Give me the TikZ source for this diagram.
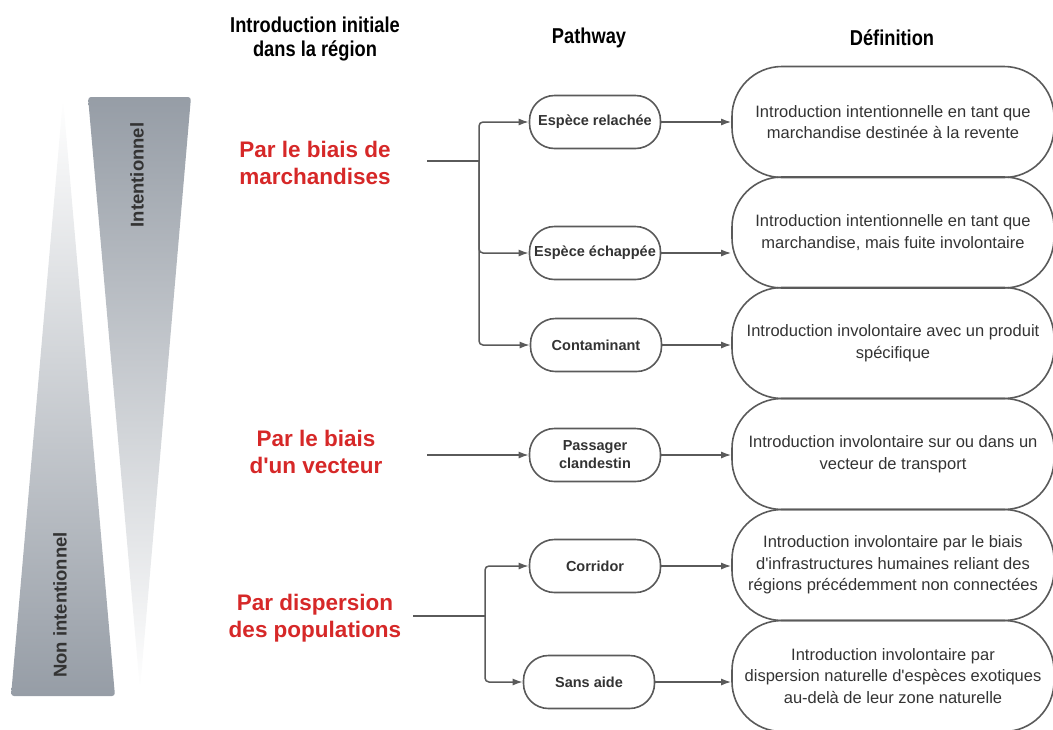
\documentclass[tikz,border=0pt]{standalone}
\usepackage{fontspec}
\setmainfont{Liberation Sans}
\usetikzlibrary{arrows.meta}
\usetikzlibrary{calc}
\tikzset{>={Latex[length=10,width=7]}}
\definecolor{linegray}{RGB}{90,90,90}
\definecolor{textgray}{RGB}{51,51,51}
\definecolor{labelred}{RGB}{214,40,40}
\definecolor{trigray}{RGB}{150,157,166}
\tikzset{
  pathbox/.style={draw=linegray,line width=1.6,rounded corners=25,minimum width=131,minimum height=53,inner sep=2,align=center,text=textgray,font=\fontsize{14.5}{18}\selectfont\bfseries},
  defbox/.style={draw=linegray,line width=1.6,rounded corners=50,minimum width=322,minimum height=111,inner sep=0,align=center,text=textgray,font=\fontsize{16.5}{21.5}\selectfont},
  title/.style={align=center,font=\fontsize{21.5}{24}\selectfont\bfseries,xscale=0.85},
  route/.style={align=center,text=labelred,font=\fontsize{22.5}{27}\selectfont\bfseries},
  side/.style={rotate=90,text=textgray,font=\fontsize{18.5}{22}\selectfont\bfseries},
  link/.style={draw=linegray,line width=1.5},
  arrow/.style={link,->,rounded corners=4},
}

\begin{document}
\begin{tikzpicture}[x=1pt,y=-1pt]
\useasboundingbox (0,0) rectangle (1053,729);
\shade[top color=trigray,bottom color=white,rounded corners=3] (88,97) -- (191,97) -- (140,690) -- cycle;
\shade[top color=white,bottom color=trigray,rounded corners=3] (63,98) -- (115,696) -- (11,696) -- cycle;
\node[side] (t1) at (137,175) {Intentionnel};
\node[side] (t2) at (60,605) {Non intentionnel};

\node[title] (h1) at (315,39) {Introduction initiale\\dans la région};
\node[title] (h2) at (589,38) {Pathway};
\node[title] (h3) at (892,38) {Définition};

\node[route] (m1) at (315,163) {Par le biais de\\marchandises};
\node[route] (m2) at (316,452) {Par le biais\\d\textquotesingle un vecteur};
\node[route] (m3) at (315,618) {Par dispersion\\des populations};

\node[pathbox] (p1) at (595,122) {Espèce relachée};
\node[pathbox] (p2) at (595,253) {Espèce échappée};
\node[pathbox] (p3) at (596,345) {Contaminant};
\node[pathbox] (p4) at (595,455) {Passager\\clandestin};
\node[pathbox] (p5) at (595,566) {Corridor};
\node[pathbox] (p6) at (589,682) {Sans aide};

\node[defbox] (d1) at (893,122) {Introduction intentionnelle en tant que\\marchandise destinée à la revente};
\node[defbox] (d2) at (893,232.5) {Introduction intentionnelle en tant que\\marchandise, mais fuite involontaire};
\node[defbox] (d3) at (893,343) {Introduction involontaire avec un produit\\spécifique};
\node[defbox] (d4) at (893,454) {Introduction involontaire sur ou dans un\\vecteur de transport};
\node[defbox] (d5) at (893,565) {Introduction involontaire par le biais\\d\textquotesingle infrastructures humaines reliant des\\régions précédemment non connectées};
\node[defbox] (d6) at (893,676) {Introduction involontaire par\\dispersion naturelle d\textquotesingle espèces exotiques\\au-delà de leur zone naturelle};

\coordinate (m1out) at (427,161);
\coordinate (j1) at (479,161);
\draw[link] (m1out) -- (j1);
\draw[arrow] (j1) |- (p1);
\draw[arrow] (j1) |- (p2);
\draw[arrow] (j1) |- (p3);

\coordinate (m2out) at (427,455);
\draw[arrow] (m2out) -- (p4);

\coordinate (m3out) at (413,616);
\coordinate (j3) at (485,616);
\draw[link] (m3out) -- (j3);
\draw[arrow] (j3) |- (p5);
\draw[arrow] (j3) |- (p6);

\foreach \p/\d in {p1/d1,p2/d2,p3/d3,p4/d4,p5/d5,p6/d6}
  \draw[arrow] (\p.east) -- (\p.east -| \d.west);
\end{tikzpicture}
\end{document}
